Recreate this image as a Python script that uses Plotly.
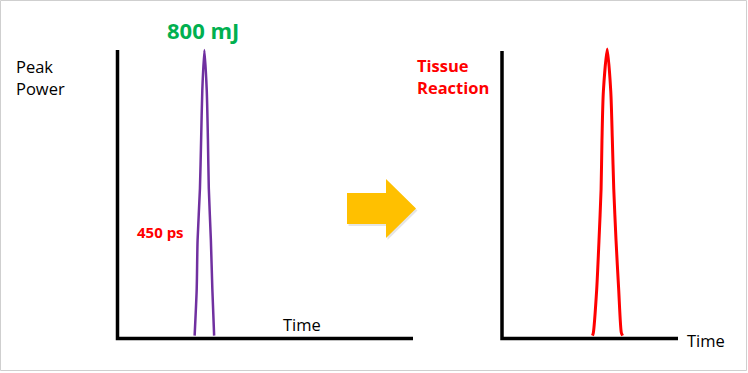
import plotly.graph_objects as go

W, H = 748, 373

# ---- data ----
TIME_MAX = 10
POWER_MAX = 1.0

purple_time = [2.61, 2.68, 2.71, 2.79, 2.83, 2.87, 2.94, 3.02, 3.06, 3.09, 3.16, 3.21, 3.27]
purple_power = [0.01, 0.17, 0.34, 0.52, 0.69, 0.86, 1.0, 0.86, 0.69, 0.52, 0.34, 0.17, 0.01]

red_time = [5.14, 5.19, 5.38, 5.51, 5.63, 5.68, 5.76, 5.98, 6.18, 6.27, 6.35, 6.48, 6.63, 6.78, 6.85]
red_power = [0.01, 0.02, 0.17, 0.34, 0.52, 0.69, 0.86, 1.007, 0.86, 0.69, 0.52, 0.34, 0.17, 0.02, 0.01]

energy_label = "800 mJ"
duration_label = "450 ps"
left_ylabel = ["Peak", "Power"]
right_ylabel = ["Tissue", "Reaction"]
xlabel = "Time"


def px(x):
    return x / W


def py(y):
    return 1 - y / H


def axes(ox, oy, sx, sy, x0, x1, ytop, ybot):
    xa = dict(domain=[px(x0), px(x1)], range=[(x0 - ox) / sx, (x1 - ox) / sx],
              visible=False, fixedrange=True)
    ya = dict(domain=[py(ybot), py(ytop)], range=[(oy - ybot) / sy, (oy - ytop) / sy],
              visible=False, fixedrange=True)
    return xa, ya


xa1, ya1 = axes(117.5, 338.5, 295.5 / TIME_MAX, 288.5 / POWER_MAX, 100, 430, 30, 355)
xa2, ya2 = axes(502, 338.5, 176 / TIME_MAX, 287.5 / POWER_MAX, 490, 690, 30, 355)
ya1["anchor"] = "x"
xa1["anchor"] = "y"
xa2["anchor"] = "y2"
ya2["anchor"] = "x2"

fig = go.Figure()
fig.add_trace(go.Scatter(x=purple_time, y=purple_power, mode="lines",
                         line=dict(color="#7030A0", width=2.5, shape="spline", smoothing=0.7),
                         xaxis="x", yaxis="y", hoverinfo="skip", showlegend=False))
fig.add_trace(go.Scatter(x=red_time, y=red_power, mode="lines",
                         line=dict(color="#FF0000", width=3, shape="spline", smoothing=0.7),
                         xaxis="x2", yaxis="y2", hoverinfo="skip", showlegend=False))

shapes = []
# axis lines (L-shaped) in data coordinates
for xr, yr in (("x", "y"), ("x2", "y2")):
    shapes.append(dict(type="path", xref=xr, yref=yr,
                       path=f"M 0,{POWER_MAX} L 0,0 L {TIME_MAX},0",
                       line=dict(color="black", width=3.5), layer="above"))

# arrow
arrow_pts = [(347, 193), (386, 193), (386, 179), (416, 208.5), (386, 238), (386, 224), (347, 224)]
shadow = "M " + " L ".join(f"{px(x + 1.5):.5f},{py(y + 2):.5f}" for x, y in arrow_pts) + " Z"
shapes.append(dict(type="path", xref="paper", yref="paper", path=shadow,
                   fillcolor="rgba(0,0,0,0.10)", line=dict(width=0), layer="below"))
arrow = "M " + " L ".join(f"{px(x):.5f},{py(y):.5f}" for x, y in arrow_pts) + " Z"
shapes.append(dict(type="path", xref="paper", yref="paper", path=arrow,
                   fillcolor="#FFC000", line=dict(width=0), layer="above"))

# frame
shapes.append(dict(type="rect", xref="paper", yref="paper",
                   x0=px(0.5), x1=px(746.5), y0=py(370.5), y1=py(0.5),
                   line=dict(color="#CFCFCF", width=1)))

FONT = "Open Sans, Arial, sans-serif"


def ann(text, x, y, size, color, bold=False, xanchor="left"):
    t = f"<b>{text}</b>" if bold else text
    return dict(text=t, x=px(x), y=py(y), xref="paper", yref="paper",
                xanchor=xanchor, yanchor="middle", showarrow=False,
                font=dict(family=FONT, size=size, color=color))


annotations = [
    ann(energy_label, 203, 30, 22, "#00B050", bold=True, xanchor="center"),
    ann(left_ylabel[0], 14, 66, 16.5, "black"),
    ann(left_ylabel[1], 14, 89, 16.5, "black"),
    ann(duration_label, 135, 232, 15, "#FF0000", bold=True),
    ann(xlabel, 281, 324, 16.5, "black"),
    ann(right_ylabel[0], 415, 65, 16.5, "#FF0000", bold=True),
    ann(right_ylabel[1], 415, 88, 16.5, "#FF0000", bold=True),
    ann(xlabel, 685, 340, 16.5, "black"),
]

fig.update_layout(
    width=W, height=H, autosize=False,
    margin=dict(l=0, r=0, t=0, b=0),
    paper_bgcolor="white", plot_bgcolor="white",
    xaxis=xa1, yaxis=ya1, xaxis2=xa2, yaxis2=ya2,
    shapes=shapes, annotations=annotations,
    showlegend=False,
)

fig.write_html("out.html",
               config={"displayModeBar": False, "staticPlot": True},
               post_script="document.body.style.margin='0';document.body.style.overflow='hidden';")
